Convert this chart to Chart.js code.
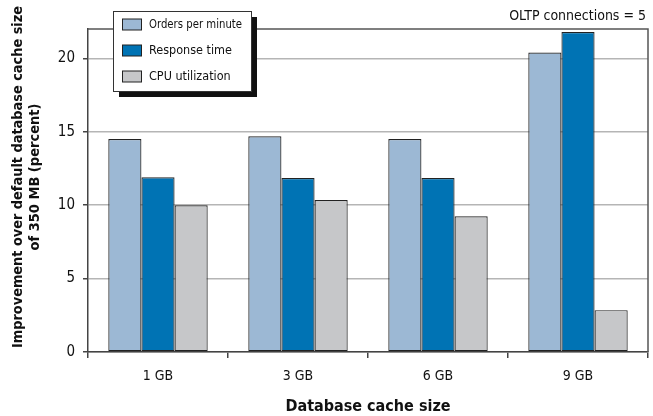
<!DOCTYPE html>
<html>
<head>
<meta charset="utf-8">
<script src="https://cdn.jsdelivr.net/npm/chart.js@4.4.1/dist/chart.umd.min.js"></script>
<style>
html,body{margin:0;padding:0;background:#fff;}
#wrap{width:653px;height:416px;position:relative;}
</style>
</head>
<body>
<div id="wrap"><canvas id="c" width="653" height="416"></canvas></div>
<script>
const categories = ['1 GB', '3 GB', '6 GB', '9 GB'];
const ordersPerMinute = [14.5, 14.7, 14.5, 20.4];
const responseTime = [11.9, 11.85, 11.85, 21.8];
const cpuUtilization = [10.0, 10.35, 9.25, 2.85];
const yTicks = [0, 5, 10, 15, 20];
const seriesNames = ['Orders per minute', 'Response time', 'CPU utilization'];
const note = 'OLTP connections = 5';
const yTitleLines = ['Improvement over default database cache size', 'of 350 MB (percent)'];

const FONT = "'DejaVu Sans Condensed', 'Liberation Sans Narrow', 'Liberation Sans', sans-serif";
const colors = ['#9cb8d4', '#0073b4', '#c6c7c9'];

const overlay = {
  id: 'overlay',
  afterDraw(chart) {
    const ctx = chart.ctx;
    const a = chart.chartArea;
    ctx.save();
    // frame top/right
    ctx.strokeStyle = '#555';
    ctx.lineWidth = 1.5;
    ctx.beginPath();
    ctx.moveTo(a.left, a.top);
    ctx.lineTo(a.right, a.top);
    ctx.lineTo(a.right, a.bottom);
    ctx.stroke();
    // note text
    ctx.fillStyle = '#111';
    ctx.font = "14px " + FONT;
    ctx.textAlign = 'right';
    ctx.textBaseline = 'middle';
    ctx.fillText(note, 646, 16);
    // y axis title
    ctx.save();
    ctx.translate(0, 177);
    ctx.rotate(-Math.PI / 2);
    ctx.font = "bold 14.5px " + FONT;
    ctx.textAlign = 'center';
    ctx.fillStyle = '#111';
    ctx.fillText(yTitleLines[0], 0, 18, 342);
    ctx.fillText(yTitleLines[1], 0, 35);
    ctx.restore();
    // legend box with shadow
    const lx = 113, ly = 11, lw = 138, lh = 80;
    ctx.fillStyle = '#111';
    ctx.fillRect(lx + 6, ly + 6, lw, lh);
    ctx.fillStyle = '#fff';
    ctx.fillRect(lx, ly, lw, lh);
    ctx.strokeStyle = '#333';
    ctx.lineWidth = 1;
    ctx.strokeRect(lx + 0.5, ly + 0.5, lw, lh);
    const rows = [24.5, 50.5, 76.5];
    chart.data.datasets.forEach((ds, i) => {
      ctx.fillStyle = ds.backgroundColor;
      ctx.fillRect(122, rows[i] - 5.5, 19, 11);
      ctx.strokeStyle = '#222';
      ctx.strokeRect(122.5, rows[i] - 5.5, 19, 11);
      ctx.fillStyle = '#111';
      ctx.font = "12.5px " + FONT;
      ctx.textAlign = 'left';
      ctx.textBaseline = 'middle';
      ctx.fillText(ds.label, 149, rows[i] + 0.5, 93);
    });
    ctx.restore();
  }
};

new Chart(document.getElementById('c'), {
  type: 'bar',
  data: {
    labels: categories,
    datasets: [
      { label: seriesNames[0], data: ordersPerMinute, backgroundColor: colors[0] },
      { label: seriesNames[1], data: responseTime, backgroundColor: colors[1] },
      { label: seriesNames[2], data: cpuUtilization, backgroundColor: colors[2] }
    ].map(d => Object.assign(d, { borderColor: '#222', borderWidth: 1.2, borderSkipped: false, categoryPercentage: 0.71, barPercentage: 1.0 }))
  },
  options: {
    responsive: false,
    animation: false,
    devicePixelRatio: 1,
    layout: { padding: { left: 0, right: 5, top: 29, bottom: 0 } },
    plugins: {
      legend: { display: false },
      tooltip: { enabled: false },
      title: { display: false }
    },
    scales: {
      x: {
        afterFit(s) { s.height = 64; },
        grid: { display: true, drawOnChartArea: false, offset: true, tickLength: 6, tickColor: '#444', lineWidth: 1.5 },
        border: { display: true, color: '#444', width: 1.5 },
        ticks: { color: '#111', font: { family: FONT, size: 14 }, padding: 10 },
        title: { display: true, text: 'Database cache size', color: '#111', font: { family: FONT, size: 16, weight: 'bold' }, padding: { top: 0, bottom: 0 } }
      },
      y: {
        min: 0, max: 22,
        afterFit(s) { s.width = 88; },
        afterBuildTicks(s) { s.ticks = yTicks.map(v => ({ value: v })); },
        grid: { color: '#b5b5b5', lineWidth: 1.5, tickLength: 5, tickColor: '#444' },
        border: { display: true, color: '#444', width: 1.5 },
        ticks: { color: '#111', font: { family: FONT, size: 15 }, padding: 8 },
        title: { display: false }
      }
    }
  },
  plugins: [overlay]
});
</script>
</body>
</html>
